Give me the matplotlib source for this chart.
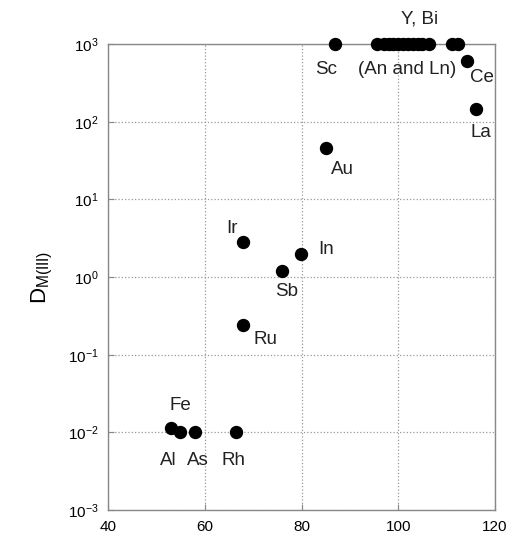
import matplotlib
matplotlib.use("Agg")
import matplotlib.pyplot as plt

plt.rcParams['font.family'] = ['Liberation Sans', 'DejaVu Sans']
plt.rcParams['mathtext.default'] = 'regular'

# ionic radius (x) and distribution ratio D (y)
radius = [53.1, 54.8, 57.9, 66.4, 67.9, 67.9, 76.0, 79.9, 85.1, 87.0,
          95.6, 97.0, 98.0, 99.0, 100.0, 101.0, 102.0, 103.0, 104.0, 105.0, 106.4,
          111.2, 112.4, 114.3, 116.1]
dvalue = [0.0113, 0.0100, 0.0100, 0.0100, 2.79, 0.243, 1.2, 2.01, 46, 1000,
          1000, 1000, 1000, 1000, 1000, 1000, 1000, 1000, 1000, 1000, 1000,
          1000, 1000, 600, 147]

# labels: text, x, y (data coords of the text centre)
label_text = ['Fe', 'Al', 'As', 'Rh', 'Ir', 'Ru', 'Sb', 'In', 'Au', 'Sc',
              '(An and Ln)', 'Y, Bi', 'Ce', 'La']
label_x = [54.9, 52.5, 58.5, 65.9, 65.6, 72.5, 77.0, 85.1, 88.4, 85.1,
           101.9, 104.5, 117.2, 117.0]
label_y = [0.0225, 0.0044, 0.0044, 0.0044, 4.2, 0.155, 0.65, 2.25, 24.5, 470,
           470, 2100, 370, 73]

fig = plt.figure(figsize=(5.15, 5.38), dpi=100)
ax = fig.add_axes([0.2097, 0.052, 0.7515, 0.866])

ax.plot(radius, dvalue, 'o', color='black', markersize=8.6, clip_on=False, zorder=3)

for t, x, y in zip(label_text, label_x, label_y):
    ax.text(x, y, t, fontsize=13.5, ha='center', va='center', color='#222222',
            clip_on=False)

ax.set_yscale('log')
ax.set_xlim(40, 120)
ax.set_ylim(1e-3, 1e3)
ax.set_xticks([40, 60, 80, 100, 120])
ax.set_yticks([1e-3, 1e-2, 1e-1, 1e0, 1e1, 1e2, 1e3])
ax.minorticks_off()
ax.tick_params(direction='in', length=4, color='#888888', labelsize=11, pad=7)
ax.grid(True, linestyle=':', color='#999999', linewidth=0.9)
for s in ax.spines.values():
    s.set_color('#888888')
    s.set_linewidth(1.0)

ax.set_ylabel('$D_{M(III)}$', fontsize=16, labelpad=9)

fig.savefig('out.png', dpi=100)
